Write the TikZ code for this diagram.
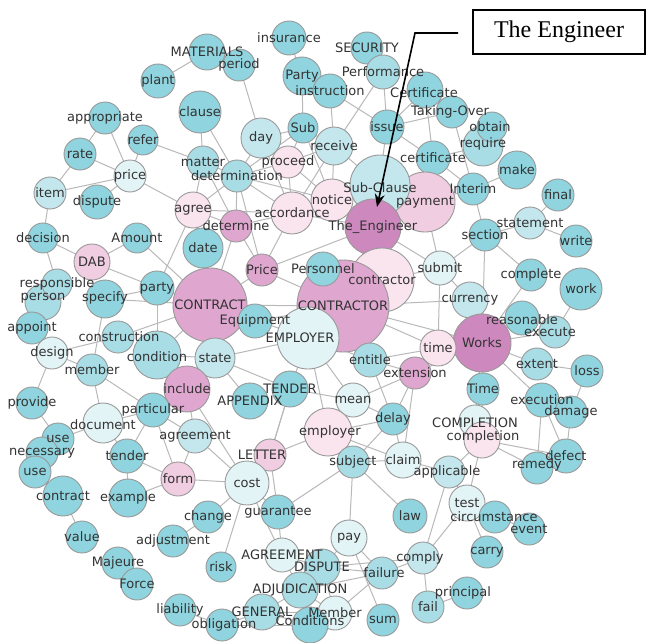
\documentclass[tikz,border=0pt]{standalone}
\usepackage{fontspec}
\setmainfont{DejaVu Sans}
\newfontfamily\timesf{Liberation Serif}
\usetikzlibrary{arrows.meta}
\pgfdeclarelayer{bg}
\pgfsetlayers{bg,main}
\definecolor{ta}{HTML}{8FD4DE}
\definecolor{tb}{HTML}{A9DDE6}
\definecolor{tc}{HTML}{C4E7ED}
\definecolor{td}{HTML}{E3F4F7}
\definecolor{pa}{HTML}{FAE5EF}
\definecolor{pb}{HTML}{F1CDE2}
\definecolor{pc}{HTML}{DFA7CF}
\definecolor{pd}{HTML}{CD88BE}
\definecolor{txt}{HTML}{333333}
\def\nodelist{insurance/289/38/17/ta/insurance/0/0,
materials/207/52/18/ta/MATERIALS/0/0,
security/367/48/16/ta/SECURITY/0/0,
period/239/65/16/ta/period/0/0,
plant/158/81/17/ta/plant/0/0,
partyA/302/76/19/ta/Party/0/0,
instr/330/91/17/ta/instruction/0/0,
perf/383/72/17/tb/Performance/0/0,
certB/425/90/18/ta/Certificate/-1/3,
taking/452/112/16/ta/Taking-Over/-2/0,
require/483/146/20/tb/require/0/-2,
obtain/492/127/15/ta/obtain/-2/0,
make/517/170/19/ta/make/0/0,
final/558/195/16/ta/final/0/0,
interim/473/189/16/ta/Interim/0/0,
certS/433/158/17/ta/certificate/0/0,
issue/387/127/17/ta/issue/0/0,
sub/303/128/15/ta/Sub/0/0,
receive/334/146/19/tc/receive/0/0,
day/261/138/20/tc/day/0/0,
clause/200/112/21/ta/clause/0/0,
matter/203/162/16/tb/matter/0/0,
determ/237/176/16/tb/determination/0/0,
proceed/288/162/16/pa/proceed/0/0,
refer/143/140/15/ta/refer/0/0,
approp/105/118/16/ta/appropriate/0/0,
rate/80/154/16/ta/rate/0/0,
price/130/176/16/td/price/0/0,
item/50/193/16/tc/item/0/0,
dispute/97/202/17/ta/dispute/0/0,
agree/193/210/18/pa/agree/0/0,
accord/292/213/21/pa/accordance/0/0,
notice/332/200/21/pa/notice/0/0,
payment/425/202/30/pb/payment/0/0,
subcl/380/185/30/tc/Sub-Clause/0/3,
eng/373/227/28/pd/The\_Engineer/0/0,
determine/236/226/16/pc/determine/0/0,
date/203/248/20/ta/date/0/0,
amount/137/238/15/ta/Amount/0/0,
decision/43/238/15/ta/decision/0/0,
dab/92/262/18/pb/DAB/0/0,
person/43/302/18/tb/person/0/-4,
resp/57/284/15/tb/responsible/0/0,
partyB/157/288/17/ta/party/0/0,
specify/105/299/19/ta/specify/0/-1,
contractor/382/280/32/pa/contractor/0/0,
CONTRACT/210/305/37/pc/CONTRACT/0/0,
CONTRACTOR/343/306/46/pc/CONTRACTOR/0/0,
priceB/262/270/16/pc/Price/0/0,
personnel/323/269/17/ta/Personnel/0/0,
submit/440/268/17/td/submit/0/0,
section/485/235/16/ta/section/0/0,
statement/530/223/16/tc/statement/0/0,
write/576/241/16/ta/write/0/0,
complete/531/275/16/ta/complete/0/0,
work/581/289/21/ta/work/0/0,
currency/470/300/18/tc/currency/0/0,
reasonable/522/318/17/ta/reasonable/0/2,
execute/555/332/16/tb/execute/-5/0,
works/482/343/29/pd/Works/0/0,
time/438/348/18/pa/time/0/0,
extension/415/373/16/pc/extension/0/0,
extent/537/364/16/tb/extent/0/0,
loss/587/371/16/ta/loss/0/0,
Time/483/389/16/ta/Time/0/0,
execution/542/400/17/ta/execution/0/0,
damage/571/412/16/ta/damage/0/0,
COMPLETION/475/421/16/td/COMPLETION/0/2,
completion/482/440/18/pa/completion/1/-3,
defect/566/456/17/ta/defect/0/0,
remedy/537/468/16/ta/remedy/0/-3,
EMPLOYER/308/338/31/td/EMPLOYER/-8/0,
equipment/255/321/17/ta/Equipment/0/0,
state/215/358/20/tc/state/0/0,
condition/157/355/24/tb/condition/0/2,
construction/118/337/16/tb/construction/1/0,
appoint/32/328/16/ta/appoint/0/0,
design/52/353/16/td/design/0/0,
member/92/370/16/tb/member/0/0,
include/187/389/23/pc/include/0/0,
appendix/250/401/18/ta/APPENDIX/0/0,
tenderU/290/389/18/ta/TENDER/0/0,
entitle/370/360/17/tb/entitle/0/0,
mean/353/400/17/td/mean/0/0,
delay/393/419/16/ta/delay/0/0,
provide/32/403/16/ta/provide/0/0,
particular/153/410/17/ta/particular/0/0,
document/103/423/20/td/document/0/2,
agreement/195/436/17/tc/agreement/0/0,
employer/328/432/24/pa/employer/2/0,
claim/403/460/18/td/claim/0/0,
subject/353/462/16/tb/subject/0/0,
letter/270/455/16/pb/LETTER/-8/0,
useA/58/439/16/ta/use/0/0,
necessary/42/453/16/ta/necessary/0/0,
useB/35/472/16/ta/use/0/0,
tender/127/456/17/ta/tender/0/0,
form/178/479/17/pb/form/0/0,
cost/247/483/22/td/cost/0/0,
applicable/449/472/16/tc/applicable/-2/0,
contract/63/496/20/ta/contract/0/0,
example/128/498/19/ta/example/0/0,
test/467/503/18/td/test/0/0,
circumstance/495/517/16/ta/circumstance/-1/0,
event/529/529/16/ta/event/0/0,
law/410/516/17/ta/law/0/0,
change/208/517/16/ta/change/0/0,
guarantee/278/512/17/ta/guarantee/0/0,
value/82/537/16/ta/value/0/0,
adjustment/173/541/16/ta/adjustment/0/0,
pay/349/538/18/td/pay/0/0,
carry/487/552/16/ta/carry/0/0,
AGREEMENT/282/555/17/td/AGREEMENT/0/0,
risk/221/567/15/ta/risk/0/0,
comply/423/558/16/tc/comply/-3/0,
DISPUTE/322/567/18/tb/DISPUTE/0/0,
failure/382/573/16/tb/failure/2/0,
majeure/118/563/16/ta/Majeure/0/0,
force/137/584/16/ta/Force/0/0,
ADJ/300/590/18/tb/ADJUDICATION/0/0,
principal/467/593/16/ta/principal/-4/0,
fail/428/607/16/tb/fail/0/0,
sum/383/620/16/ta/sum/0/0,
liability/180/610/16/ta/liability/0/0,
GENERAL/262/612/18/tb/GENERAL/0/0,
obligation/222/625/16/ta/obligation/2/0,
Member/335/613/17/td/Member/0/0,
Conditions/310/625/18/ta/Conditions/0/-4}
\begin{document}
\begin{tikzpicture}[x=1pt,y=-1pt,
  vert/.style={circle,draw=gray!80,line width=0.9pt,inner sep=0pt},
  lab/.style={inner sep=0pt,text=txt,font=\fontsize{13}{13}\selectfont},
  edge/.style={draw=gray!55,line width=1pt},
  callout/.style={draw=black,line width=1.6pt},
  tagbox/.style={draw=black,line width=1.5pt,minimum width=172pt,minimum height=44pt,inner sep=0pt,font=\timesf\fontsize{24}{24}\selectfont}]
\useasboundingbox (0,0) rectangle (647,642);
\foreach \n/\x/\y/\r/\c/\t/\dx/\dy in \nodelist
  \node[vert,fill=\c,minimum size={2*\r pt}] (\n) at (\x,\y) {};
\begin{pgfonlayer}{bg}
\fill[white] (0,0) rectangle (647,642);
\foreach \a/\b in {materials/plant,insurance/partyA,partyA/sub,partyA/instr,instr/issue,instr/receive,security/perf,perf/receive,perf/issue,period/day,day/sub,day/proceed,day/determ,day/accord,sub/receive,sub/proceed,sub/determ,sub/notice,receive/notice,receive/proceed,receive/accord,receive/subcl,issue/certS,issue/certB,issue/taking,issue/eng,certB/taking,certB/certS,taking/interim,require/obtain,require/certS,certS/interim,certS/payment,interim/make,interim/payment,interim/section,final/statement,statement/write,statement/section,section/submit,section/complete,section/works,submit/currency,submit/payment,submit/eng,submit/contractor,complete/works,work/execute,reasonable/works,execute/works,works/extent,extent/loss,loss/damage,works/execution,execution/damage,works/Time,works/time,works/extension,works/currency,works/COMPLETION,works/completion,time/extension,currency/CONTRACTOR,COMPLETION/completion,completion/remedy,completion/defect,remedy/defect,completion/applicable,completion/test,execution/remedy,damage/defect,execution/defect,applicable/test,applicable/comply,applicable/claim,test/circumstance,test/carry,test/comply,circumstance/event,comply/fail,fail/principal,comply/failure,comply/DISPUTE,law/subject,employer/letter,employer/subject,employer/claim,employer/delay,employer/mean,subject/claim,subject/pay,subject/guarantee,letter/cost,letter/guarantee,letter/tenderU,cost/guarantee,cost/change,cost/risk,cost/AGREEMENT,cost/form,cost/agreement,cost/include,guarantee/AGREEMENT,pay/sum,pay/DISPUTE,pay/failure,AGREEMENT/DISPUTE,AGREEMENT/ADJ,DISPUTE/failure,DISPUTE/ADJ,DISPUTE/Member,ADJ/failure,ADJ/GENERAL,ADJ/Member,ADJ/Conditions,GENERAL/Member,GENERAL/Conditions,Member/Conditions,obligation/GENERAL,obligation/Conditions,failure/Member,useA/document,useA/necessary,useB/necessary,provide/useA,contract/useB,contract/value,tender/form,tender/document,tender/particular,example/form,example/tender,form/agreement,form/particular,majeure/force,change/adjustment,liability/obligation,particular/document,particular/member,particular/include,particular/agreement,decision/dab,decision/item,decision/resp,dab/amount,dab/partyB,amount/CONTRACT,partyB/agree,specify/partyB,specify/CONTRACT,specify/member,partyB/condition,construction/CONTRACT,construction/design,design/appoint,design/provide,design/member,member/document,condition/state,condition/include,person/appoint,resp/person,approp/rate,approp/price,refer/price,refer/matter,rate/price,rate/item,item/price,dispute/price,price/agree,clause/matter,clause/determ,matter/agree,matter/determ,matter/determine,agree/determine,agree/determ,agree/date,agree/accord,agree/CONTRACT,determ/accord,determ/determine,determ/notice,determ/proceed,determ/priceB,determine/priceB,determine/accord,determine/CONTRACT,priceB/CONTRACT,priceB/accord,priceB/CONTRACTOR,priceB/eng,date/CONTRACT,personnel/CONTRACTOR,eng/contractor,eng/notice,eng/subcl,eng/payment,eng/accord,eng/CONTRACTOR,contractor/CONTRACTOR,notice/accord,notice/proceed,notice/subcl,subcl/payment,proceed/accord,CONTRACT/equipment,CONTRACT/EMPLOYER,CONTRACT/state,CONTRACT/condition,CONTRACT/CONTRACTOR,CONTRACT/partyB,CONTRACTOR/EMPLOYER,CONTRACTOR/entitle,CONTRACTOR/time,CONTRACTOR/works,CONTRACTOR/equipment,EMPLOYER/tenderU,EMPLOYER/mean,EMPLOYER/employer,EMPLOYER/entitle,EMPLOYER/state,entitle/extension,entitle/delay,entitle/time,state/appendix,state/tenderU,state/include,include/agreement,tenderU/letter,tenderU/mean,mean/employer,mean/delay,mean/extension,delay/extension,delay/claim,claim/extension,delay/subject,time/submit}
  \draw[edge] (\a.center) -- (\b.center);
\end{pgfonlayer}
\foreach \n/\x/\y/\r/\c/\t/\dx/\dy in \nodelist
  \node[lab] at ([shift={(\dx,\dy)}]\n.center) {\t};
\node[tagbox] (tag) at (559,32) {The Engineer};
\coordinate (ca) at (458,33);
\coordinate (cb) at (415,33);
\coordinate (cc) at (377,207);
\draw[callout,-{Stealth[length=13pt,width=10pt]}] (ca) -- (cb) -- (cc);
\end{tikzpicture}
\end{document}
